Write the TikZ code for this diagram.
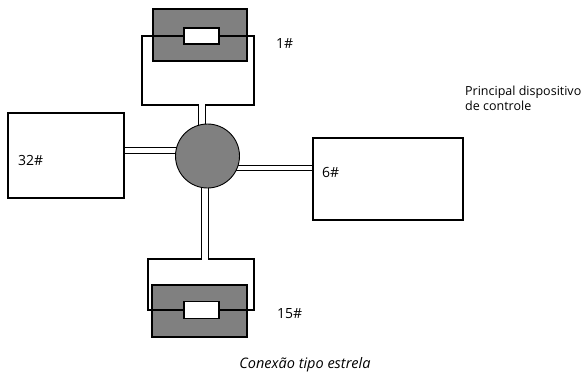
\documentclass[tikz,border=0pt]{standalone}
\usepackage{fontspec}
\setmainfont{Open Sans}
\definecolor{boxgray}{gray}{0.5}
\begin{document}
\begin{tikzpicture}[x=1pt,y=-1pt,
  box/.style={draw,line width=1.1pt,inner sep=0pt},
  dev/.style={box,fill=boxgray},
  res/.style={box,fill=white,minimum width=35pt,minimum height=16pt},
  bus/.style={double,line width=1.1pt,double distance=4.5pt},
  lab/.style={inner sep=0pt,anchor=base west,font=\fontsize{14}{16}\selectfont}]
\useasboundingbox (0,0) rectangle (588,374);
\coordinate (c) at (207.5,156);
% stations
\node[box,minimum width=116pt,minimum height=85pt] (b32) at (66,155.5) {};
\node[box,minimum width=150pt,minimum height=82pt] (b6) at (388,179) {};
\node[box,minimum width=112pt,minimum height=69pt] (loop1) at (198,70.5) {};
\node[dev,minimum width=94pt,minimum height=52pt] (dev1) at (200,35) {};
\node[res] (res1) at (201.5,36) {};
\draw[line width=1.1pt] (res1.west) -- (res1.west -| loop1.west);
\draw[line width=1.1pt] (res1.east) -- (res1.east -| loop1.east);
\node[box,minimum width=106pt,minimum height=51pt] (loop15) at (201,284.5) {};
\node[dev,minimum width=95pt,minimum height=52pt] (dev15) at (199.5,311) {};
\node[res,minimum height=17pt] (res15) at (201.5,310) {};
\draw[line width=1.1pt] (res15.west) -- (res15.west -| loop15.west);
\draw[line width=1.1pt] (res15.east) -- (res15.east -| loop15.east);
% buses
\coordinate (cl) at ([yshift=5.5pt]c);
\coordinate (cr) at ([yshift=-12pt]c);
\coordinate (ct) at ([xshift=-5.5pt]c);
\coordinate (cb) at ([xshift=-2.5pt]c);
\coordinate (t1) at ([yshift=1.1pt]loop1.south);
\coordinate (t15) at ([yshift=-1.1pt]loop15.north);
\draw[bus] (cl) -- (cl -| b32.east);
\draw[bus] (cr) -- (cr -| b6.west);
\draw[bus,double distance=6.5pt] (ct) -- (ct |- t1);
\draw[bus,double distance=6pt] (cb) -- (cb |- t15);
\node[draw,circle,fill=boxgray,line width=0.9pt,minimum size=64pt,inner sep=0pt] (hub) at (c) {};
% labels
\node[lab] (l1) at (276,49) {1\#};
\node[lab] (l15) at (277,318) {15\#};
\node[lab] (l32) at (18,165) {32\#};
\node[lab] (l6) at (322,177) {6\#};
\node[inner sep=0pt,anchor=north west,align=left,font=\fontsize{12.5}{15}\selectfont] (ctl) at (465,86) {Principal dispositivo\\de controle};
\node[inner sep=0pt,anchor=base,font=\fontsize{14.5}{16}\selectfont\itshape] (cap) at (305,368) {Conexão tipo estrela};
\end{tikzpicture}
\end{document}
